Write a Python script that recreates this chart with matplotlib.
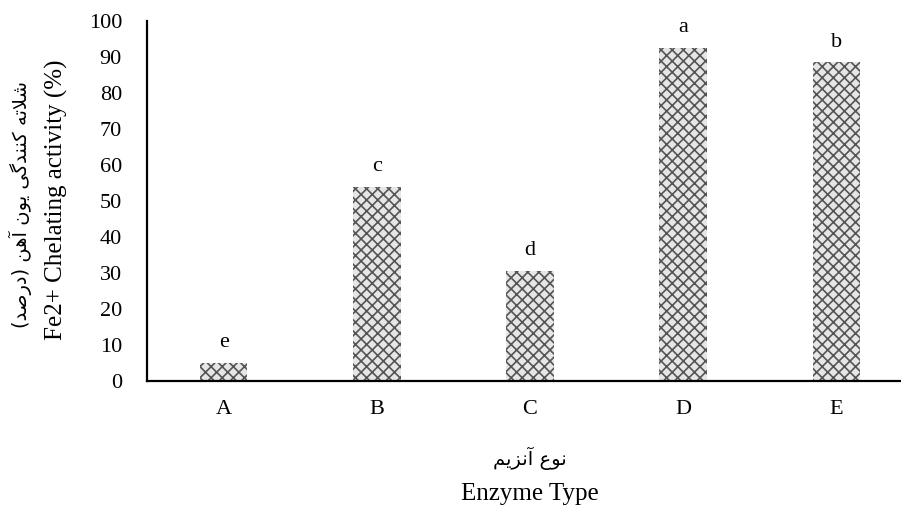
import matplotlib
matplotlib.use("Agg")
import matplotlib.pyplot as plt
import numpy as np

# data
categories = ["A", "B", "C", "D", "E"]
values = [5, 54, 30.5, 92.5, 88.5]
letters = ["e", "c", "d", "a", "b"]
yticks = [0, 10, 20, 30, 40, 50, 60, 70, 80, 90, 100]

ylabel_fa = "شلاته کنندگی یون آهن (درصد)"
ylabel_en = "Fe2+ Chelating activity (%)"
xlabel_fa = "نوع آنزیم"
xlabel_en = "Enzyme Type"

# presentation forms (isolated, final, initial, medial) -- matplotlib does no arabic shaping
forms = {
    "ا": ("\uFE8D", "\uFE8E", None, None),
    "آ": ("\uFE81", "\uFE82", None, None),
    "ت": ("\uFE95", "\uFE96", "\uFE97", "\uFE98"),
    "د": ("\uFEA9", "\uFEAA", None, None),
    "ر": ("\uFEAD", "\uFEAE", None, None),
    "ز": ("\uFEAF", "\uFEB0", None, None),
    "ش": ("\uFEB5", "\uFEB6", "\uFEB7", "\uFEB8"),
    "ص": ("\uFEB9", "\uFEBA", "\uFEBB", "\uFEBC"),
    "ع": ("\uFEC9", "\uFECA", "\uFECB", "\uFECC"),
    "ل": ("\uFEDD", "\uFEDE", "\uFEDF", "\uFEE0"),
    "م": ("\uFEE1", "\uFEE2", "\uFEE3", "\uFEE4"),
    "ن": ("\uFEE5", "\uFEE6", "\uFEE7", "\uFEE8"),
    "ه": ("\uFEE9", "\uFEEA", "\uFEEB", "\uFEEC"),
    "و": ("\uFEED", "\uFEEE", None, None),
    "ک": ("\uFB8E", "\uFB8F", "\uFB90", "\uFB91"),
    "گ": ("\uFB92", "\uFB93", "\uFB94", "\uFB95"),
    "ی": ("\uFBFC", "\uFBFD", "\uFBFE", "\uFBFF"),
}
lam_alef = {"ا": ("\uFEFB", "\uFEFC"), "آ": ("\uFEF5", "\uFEF6")}


def shape(s):
    out = []
    i = 0
    while i < len(s):
        c = s[i]
        if c not in forms:
            out.append(c)
            i += 1
            continue
        prev = s[i-1] if i > 0 else ""
        jp = prev in forms and forms[prev][2] is not None
        if c == "ل" and i+1 < len(s) and s[i+1] in lam_alef:
            lig = lam_alef[s[i+1]]
            out.append(lig[1] if jp else lig[0])
            i += 2
            continue
        nxt = s[i+1] if i+1 < len(s) else ""
        jn = forms[c][2] is not None and nxt in forms
        iso, fin, ini, med = forms[c]
        if jp and jn:
            out.append(med)
        elif jp:
            out.append(fin)
        elif jn:
            out.append(ini)
        else:
            out.append(iso)
        i += 1
    vis = "".join(reversed(out))
    return vis.translate(str.maketrans("()", ")("))


plt.rcParams["font.family"] = ["Liberation Serif", "DejaVu Sans"]
plt.rcParams["hatch.linewidth"] = 1.2

fig = plt.figure(figsize=(9.01, 5.08), dpi=100)
ax = fig.add_axes([147/901, 1-381/508, 766/901, 360/508])

x = np.arange(len(categories))
ax.bar(x, values, width=0.31, color="#e6e6e6", edgecolor="#555555",
       hatch="xxx", linewidth=0)
for xi, v, l in zip(x, values, letters):
    ax.text(xi, v + 3, l, ha="center", va="bottom", fontsize=16)

ax.set_xlim(-0.5, len(categories) - 0.5)
ax.set_ylim(0, 100)
ax.set_yticks(yticks)
ax.set_xticks(x)
ax.set_xticklabels(categories)
ax.tick_params(axis="both", length=0, labelsize=16)
ax.tick_params(axis="x", pad=14)
ax.tick_params(axis="y", pad=18)
for s in ["top", "right"]:
    ax.spines[s].set_visible(False)
for s in ["left", "bottom"]:
    ax.spines[s].set_linewidth(1.6)

fig.text(20/901, 1-205/508, shape(ylabel_fa), rotation=90, ha="center", va="center",
         fontsize=14, family=["DejaVu Sans"])
fig.text(56/901, 1-200/508, ylabel_en, rotation=90, ha="center", va="center", fontsize=18)
fig.text(530/901, 1-458/508, shape(xlabel_fa), ha="center", va="center",
         fontsize=14, family=["DejaVu Sans"])
fig.text(530/901, 1-494/508, xlabel_en, ha="center", va="center", fontsize=18)

plt.savefig("out.png", dpi=100)
